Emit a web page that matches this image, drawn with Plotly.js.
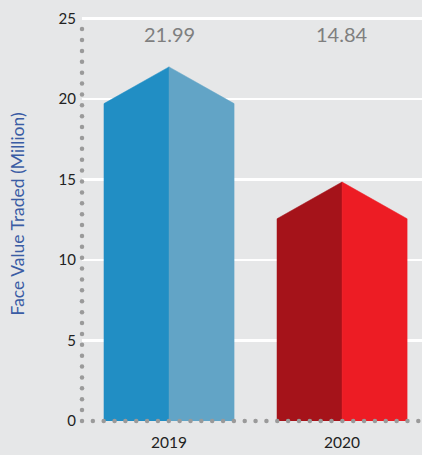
<!DOCTYPE html>
<html>
<head>
<meta charset="utf-8">
<script src="https://cdn.plot.ly/plotly-3.0.1.min.js"></script>
<style>html,body{margin:0;padding:0;background:#e6e7e8;}#chart{width:422px;height:455px;}</style>
</head>
<body>
<div id="chart"></div>
<script>
// ---- data ----
const categories = ['2019', '2020'];
const values = [21.99, 14.84];
const leftColors = ['#218ec4', '#a5131a'];
const rightColors = ['#62a4c6', '#ed1c24'];
const yTickVals = [0, 5, 10, 15, 20, 25];
const yTitle = 'Face Value Traded (Million)';

// ---- style constants ----
const halfW = 0.376;      // half bar width in category units
const shoulder = 2.28;    // drop from peak to shoulder in value units
const xMin = -0.503, xMax = 1.462;
const yMin = 0, yMax = 25.15;

const traces = [];
categories.forEach((c, i) => {
  const v = values[i];
  traces.push({
    type: 'scatter', mode: 'lines', fill: 'toself', hoverinfo: 'skip',
    x: [i - halfW, i - halfW, i, i, i - halfW],
    y: [0, v - shoulder, v, 0, 0],
    fillcolor: leftColors[i], line: {color: leftColors[i], width: 0.5}, showlegend: false
  });
  traces.push({
    type: 'scatter', mode: 'lines', fill: 'toself', hoverinfo: 'skip',
    x: [i, i, i + halfW, i + halfW, i],
    y: [0, v, v - shoulder, 0, 0],
    fillcolor: rightColors[i], line: {color: rightColors[i], width: 0.5}, showlegend: false
  });
});

// dotted axis decorations
const dx = [], dy = [];
for (let y = 0; y <= 24.6; y += 0.676) { dx.push(xMin); dy.push(y); }
for (let x = xMin + 0.0627; x <= xMax + 0.01; x += 0.0627) { dx.push(x); dy.push(0); }
traces.push({
  type: 'scatter', mode: 'markers', x: dx, y: dy, cliponaxis: false, hoverinfo: 'skip',
  marker: {size: 4.5, color: '#9a9a9a'}, showlegend: false
});

const annotations = categories.map((c, i) => ({
  x: i, y: 24.05, xref: 'x', yref: 'y', text: values[i].toFixed(2), showarrow: false,
  font: {family: 'Lato, sans-serif', size: 20, color: '#7f7f7f'}
}));
annotations.push({
  xref: 'paper', yref: 'paper', x: 0, y: 0.5, xanchor: 'center', yanchor: 'middle',
  xshift: -65, yshift: 4, textangle: -90,
  text: yTitle, showarrow: false,
  font: {family: 'Lato, sans-serif', size: 17.5, color: '#3a5ca4'}
});

const layout = {
  width: 422, height: 455,
  margin: {l: 82, r: 0, t: 16, b: 34},
  paper_bgcolor: '#e6e7e8', plot_bgcolor: '#e6e7e8',
  showlegend: false,
  xaxis: {
    range: [xMin, xMax], tickvals: categories.map((c, i) => i), ticktext: categories,
    showgrid: false, zeroline: false, showline: false, ticks: '',
    ticklabelstandoff: 10,
    tickfont: {family: 'Lato, sans-serif', size: 15.5, color: '#222'}
  },
  yaxis: {
    range: [yMin, yMax], tickvals: yTickVals,
    showgrid: true, gridcolor: '#ffffff', gridwidth: 2.5,
    zeroline: false, showline: false, ticks: '',
    ticklabelstandoff: 5,
    tickfont: {family: 'Lato, sans-serif', size: 15, color: '#222'}
  },
  annotations: annotations
};

Plotly.newPlot('chart', traces, layout, {displayModeBar: false, staticPlot: true});
</script>
</body>
</html>
